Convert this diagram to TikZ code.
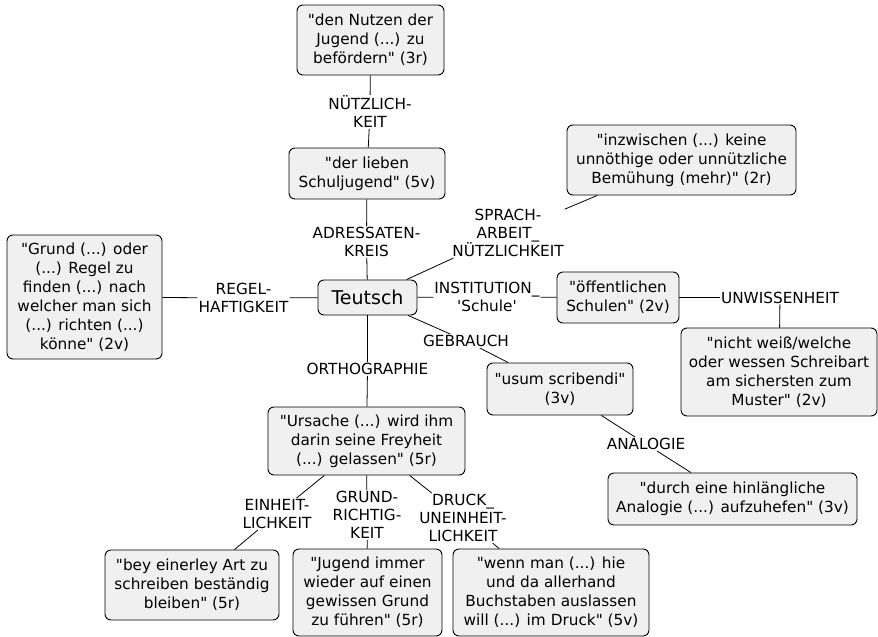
\documentclass[tikz,border=0pt]{standalone}
\usepackage{fontspec}
\setmainfont{DejaVu Sans}[Ligatures=TeXOff]
\begin{document}
\begin{tikzpicture}[x=1pt, y=-1pt,
  every node/.style={font=\fontsize{15.3}{18}\selectfont, align=center},
  zitat/.style 2 args={draw=black, fill=black!6, rounded corners=6pt, line width=0.9pt, inner sep=3pt,
    font=\fontsize{15.3}{19}\selectfont, minimum width=#1, minimum height=#2},
  rel/.style={inner sep=1pt},
  kante/.style={line width=0.8pt}]
  \useasboundingbox (0,0) rectangle (878,637);
  % Zentrum
  \node[zitat={99pt}{35pt}, font=\fontsize{19}{22}\selectfont] (teutsch) at (367.5,297.5) {Teutsch};
  % oben
  \node[zitat={147pt}{70pt}] (nutzen) at (370.5,40) {"den Nutzen der\\Jugend (...) zu\\befördern" (3r)};
  \node[rel] (nuetzlich) at (370,112) {NÜTZLICH-\\KEIT};
  \node[zitat={156pt}{51pt}] (schuljugend) at (367,173.5) {"der lieben\\Schuljugend" (5v)};
  \node[rel] (adressat) at (366.5,242) {ADRESSATEN-\\KREIS};
  \node[zitat={229pt}{70pt}] (bemuehung) at (681.5,160) {"inzwischen (...) keine\\unnöthige oder unnützliche\\Bemühung (mehr)" (2r)};
  \node[rel] (sprach) at (508,233) {SPRACH-\\ARBEIT\_\\NÜTZLICHKEIT};
  % links
  \node[zitat={155pt}{124pt}] (regel) at (84.5,297) {"Grund (...) oder\\(...) Regel zu\\finden (...) nach\\welcher man sich\\(...) richten (...)\\könne" (2v)};
  \node[rel] (regelhaft) at (243.5,298) {REGEL-\\HAFTIGKEIT};
  % rechts
  \node[rel] (institution) at (487,297) {INSTITUTION\_\\'Schule'};
  \node[zitat={122pt}{51pt}] (schulen) at (618,297.5) {"öffentlichen\\Schulen" (2v)};
  \node[rel] (unwissen) at (780,297.5) {UNWISSENHEIT};
  \node[zitat={196pt}{88pt}] (muster) at (779,372) {"nicht weiß/welche\\oder wessen Schreibart\\am sichersten zum\\Muster" (2v)};
  \node[rel] (gebrauch) at (466,341) {GEBRAUCH};
  \node[zitat={146pt}{52pt}] (usum) at (560,389) {"usum scribendi"\\(3v)};
  \node[rel] (analogie) at (646,444) {ANALOGIE};
  \node[zitat={249pt}{52pt}] (durch) at (732.5,499) {"durch eine hinlängliche\\Analogie (...) aufzuhefen" (3v)};
  % unten
  \node[rel] (ortho) at (367.5,369) {ORTHOGRAPHIE};
  \node[zitat={197pt}{68pt}] (ursache) at (366.5,441) {"Ursache (...) wird ihm\\darin seine Freyheit\\(...) gelassen" (5r)};
  \node[rel] (einheit) at (277,514) {EINHEIT-\\LICHKEIT};
  \node[rel] (grund) at (367,515) {GRUND-\\RICHTIG-\\KEIT};
  \node[rel] (druck) at (463,518) {DRUCK\_\\UNEINHEIT-\\LICHKEIT};
  \node[zitat={174pt}{70pt}] (einerley) at (192,585) {"bey einerley Art zu\\schreiben beständig\\bleiben" (5r)};
  \node[zitat={149pt}{87pt}] (jugend) at (367.5,592.5) {"Jugend immer\\wieder auf einen\\gewissen Grund\\zu führen" (5r)};
  \node[zitat={196pt}{87pt}] (wenn) at (551,592.5) {"wenn man (...) hie\\und da allerhand\\Buchstaben auslassen\\will (...) im Druck" (5v)};
  % Verbindungen
  \foreach \a/\b in {nutzen/nuetzlich, nuetzlich/schuljugend, schuljugend/adressat, adressat/teutsch,
    teutsch/sprach, sprach/bemuehung, teutsch/regelhaft, regelhaft/regel, teutsch/institution,
    institution/schulen, schulen/unwissen, unwissen/muster, teutsch/gebrauch, gebrauch/usum,
    usum/analogie, analogie/durch, teutsch/ortho, ortho/ursache, ursache/einheit, einheit/einerley,
    ursache/grund, grund/jugend, ursache/druck, druck/wenn}
    \draw[kante] (\a) -- (\b);
\end{tikzpicture}
\end{document}
